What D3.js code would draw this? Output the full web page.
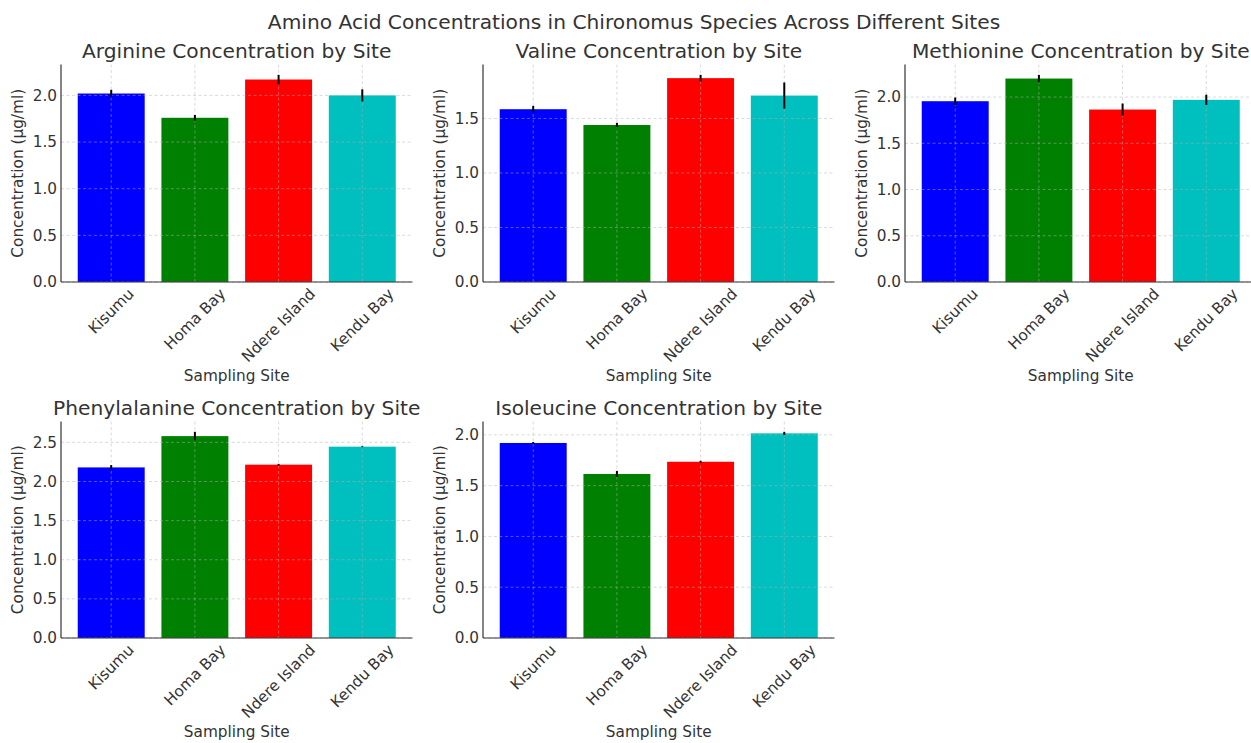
<!DOCTYPE html>
<html><head><meta charset="utf-8">
<script src="https://cdn.jsdelivr.net/npm/d3@7"></script>
<style>
body{margin:0;background:#fff;}
text{font-family:"DejaVu Sans",sans-serif;fill:#333;}
</style></head>
<body><svg id="c" width="1251" height="743"></svg>
<script>
const sites = ["Kisumu", "Homa Bay", "Ndere Island", "Kendu Bay"];
const barColors = ["#0000ff", "#008000", "#ff0000", "#00bfbf"];
const arginine = [2.02, 1.76, 2.17, 2.00];
const arginineErr = [0.04, 0.03, 0.05, 0.065];
const valine = [1.585, 1.44, 1.87, 1.71];
const valineErr = [0.03, 0.02, 0.03, 0.12];
const methionine = [1.955, 2.20, 1.865, 1.97];
const methionineErr = [0.04, 0.04, 0.065, 0.055];
const phenylalanine = [2.18, 2.58, 2.215, 2.445];
const phenylalanineErr = [0.03, 0.055, 0.01, 0.005];
const isoleucine = [1.92, 1.615, 1.735, 2.015];
const isoleucineErr = [0.01, 0.03, 0.01, 0.015];
const yTicks = [0, 0.5, 1.0, 1.5, 2.0, 2.5];
const suptitle = "Amino Acid Concentrations in Chironomus Species Across Different Sites";
const yLabel = "Concentration (μg/ml)";
const xLabel = "Sampling Site";

const panels = [
  {name: "Arginine", vals: arginine, errs: arginineErr, x0: 61, x1: 412.5, y0: 64.5, y1: 282},
  {name: "Valine", vals: valine, errs: valineErr, x0: 483, x1: 834.5, y0: 64.5, y1: 282},
  {name: "Methionine", vals: methionine, errs: methionineErr, x0: 905, x1: 1256.5, y0: 64.5, y1: 282},
  {name: "Phenylalanine", vals: phenylalanine, errs: phenylalanineErr, x0: 61, x1: 412.5, y0: 421.5, y1: 638},
  {name: "Isoleucine", vals: isoleucine, errs: isoleucineErr, x0: 483, x1: 834.5, y0: 421.5, y1: 638}
];

const svg = d3.select("#c");
svg.append("text").attr("x", 634).attr("y", 28.5).attr("text-anchor", "middle")
  .style("font-size", "20.2px").text(suptitle);

panels.forEach(p => {
  const g = svg.append("g");
  const x = d3.scaleBand().domain(sites).range([p.x0, p.x1]).paddingInner(0.2).paddingOuter(0.2);
  const ymax = d3.max(p.vals.map((v, i) => v + p.errs[i])) * 1.05;
  const y = d3.scaleLinear().domain([0, ymax]).range([p.y1, p.y0]);
  const ticks = yTicks.filter(t => t <= ymax);

  g.selectAll("rect.bar").data(sites).enter().append("rect")
    .attr("x", d => x(d)).attr("width", x.bandwidth())
    .attr("y", (d, i) => y(p.vals[i])).attr("height", (d, i) => y(0) - y(p.vals[i]))
    .attr("fill", (d, i) => barColors[i]);

  const grid = g.append("g").attr("stroke", "#b0b0b0").attr("stroke-opacity", 0.6)
    .attr("stroke-width", 0.8).attr("stroke-dasharray", "3,2.5");
  grid.selectAll("line.h").data(ticks).enter().append("line")
    .attr("x1", p.x0).attr("x2", p.x1).attr("y1", d => y(d)).attr("y2", d => y(d));
  grid.selectAll("line.v").data(sites).enter().append("line")
    .attr("x1", d => x(d) + x.bandwidth() / 2).attr("x2", d => x(d) + x.bandwidth() / 2)
    .attr("y1", p.y0).attr("y2", p.y1);

  g.selectAll("line.err").data(sites).enter().append("line")
    .attr("x1", d => x(d) + x.bandwidth() / 2).attr("x2", d => x(d) + x.bandwidth() / 2)
    .attr("y1", (d, i) => y(p.vals[i] - p.errs[i])).attr("y2", (d, i) => y(p.vals[i] + p.errs[i]))
    .attr("stroke", "#000").attr("stroke-width", 2);

  const ya = d3.axisLeft(y).tickValues(ticks).tickFormat(d3.format(".1f")).tickSize(0).tickPadding(4);
  const yg = g.append("g").attr("transform", `translate(${p.x0},0)`).call(ya);
  yg.select(".domain").attr("stroke", "#333").attr("stroke-width", 1.2).attr("d", `M0,${p.y0}V${p.y1}`);
  yg.selectAll("text").style("font-size", "15.3px").attr("fill", "#333");

  const xa = d3.axisBottom(x).tickSize(0).tickPadding(0);
  const xg = g.append("g").attr("transform", `translate(0,${p.y1})`).call(xa);
  xg.select(".domain").attr("stroke", "#333").attr("stroke-width", 1.2).attr("d", `M${p.x0},0H${p.x1}`);
  xg.selectAll("text").style("font-size", "15.3px").attr("fill", "#333")
    .attr("dy", null).attr("y", 0)
    .attr("text-anchor", "middle").attr("dominant-baseline", "central")
    .each(function () {
      const w = this.getComputedTextLength();
      const h = 15 * 0.8;
      const off = 5 + (w + h) * Math.SQRT1_2 / 2;
      d3.select(this).attr("transform", `translate(0,${off}) rotate(-45)`);
    });

  const cx = (p.x0 + p.x1) / 2;
  g.append("text").attr("x", cx).attr("y", p.y0 - 7).attr("text-anchor", "middle")
    .style("font-size", "20.2px").text(p.name + " Concentration by Site");
  g.append("text").attr("x", cx).attr("y", p.y1 + 99).attr("text-anchor", "middle")
    .style("font-size", "15.3px").text(xLabel);
  g.append("text").attr("transform", `translate(${p.x0 - 38},${(p.y0 + p.y1) / 2}) rotate(-90)`)
    .attr("text-anchor", "middle").style("font-size", "15.3px").text(yLabel);
});
</script></body></html>
